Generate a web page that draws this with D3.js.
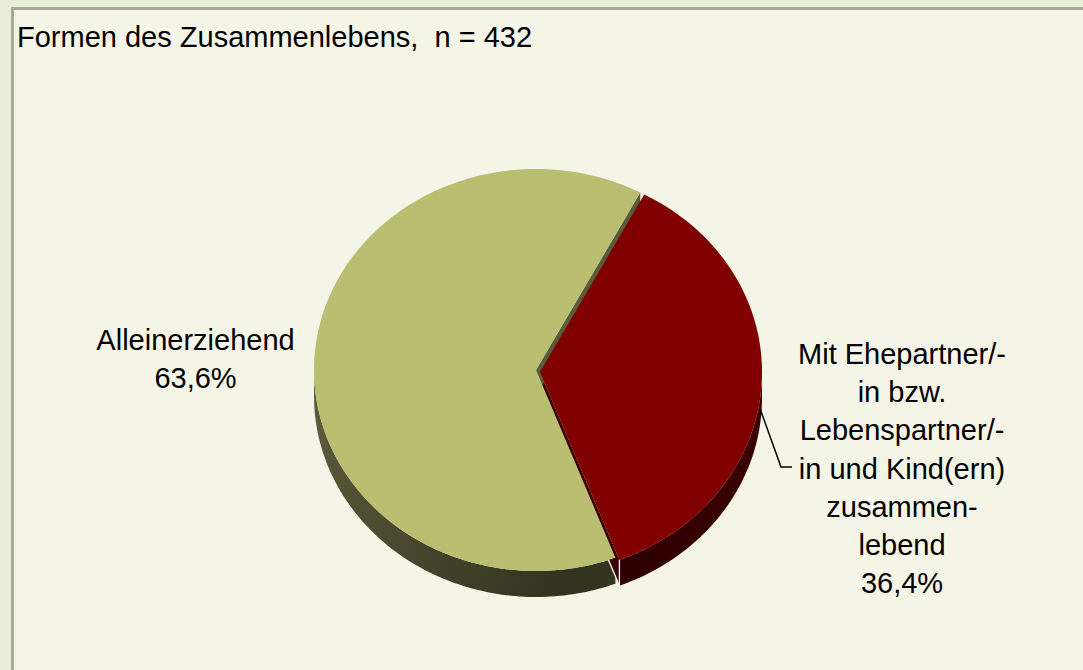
<!DOCTYPE html>
<html>
<head>
<meta charset="utf-8">
<script src="https://cdn.jsdelivr.net/npm/d3@7"></script>
<style>
  html, body { margin: 0; padding: 0; background: #e9eed9; }
  svg { display: block; font-family: "Liberation Sans", Arial, sans-serif; }
  text { white-space: pre; }
</style>
</head>
<body>
<svg id="chart" width="1083" height="670"></svg>
<script>
// data
const categories = ["Mit Ehepartner/-in bzw. Lebenspartner/-in und Kind(ern) zusammenlebend", "Alleinerziehend"];
const values = [36.4, 63.6];
const valueLabels = ["36,4%", "63,6%"];
const labelLines = [
  ["Mit Ehepartner/-", "in bzw.", "Lebenspartner/-", "in und Kind(ern)", "zusammen-", "lebend"],
  ["Alleinerziehend"]
];
const sliceColors = ["#800000", "#b9be70"];
const title = "Formen des Zusammenlebens,  n = 432";

const svg = d3.select("#chart");

// frame
svg.append("rect").attr("x", 12.5).attr("y", 8.5).attr("width", 1100).attr("height", 700)
  .attr("fill", "#f4f5e6").attr("stroke", "#a9ab95").attr("stroke-width", 3);

svg.append("text").attr("x", 17).attr("y", 47).attr("font-size", 29).attr("fill", "#000").text(title);

// pie geometry
const cx = 536, cy = 370, rx = 222, ry = 201, depth = 26;
const explode = [[4, 2], [0, 0]];
const pie = d3.pie().sort(null).startAngle(28 * Math.PI / 180).endAngle(28 * Math.PI / 180 + 2 * Math.PI);
const arcs = pie(values);

function pt(i, a, dz) {
  return [cx + explode[i][0] + rx * Math.sin(a), cy + explode[i][1] - ry * Math.cos(a) + (dz || 0)];
}
function arcPts(i, a0, a1, dz) {
  const n = Math.max(2, Math.ceil(Math.abs(a1 - a0) / 0.02));
  return d3.range(n + 1).map(k => pt(i, a0 + (a1 - a0) * k / n, dz));
}
function center(i, dz) {
  return [cx + explode[i][0], cy + explode[i][1] + (dz || 0)];
}

const defs = svg.append("defs");
const gSide = defs.append("linearGradient").attr("id", "gside").attr("x1", 0).attr("x2", 1).attr("y1", 0).attr("y2", 0.4);
gSide.append("stop").attr("offset", 0).attr("stop-color", "#5c5e3d");
gSide.append("stop").attr("offset", 1).attr("stop-color", "#34351f");
const rSide = defs.append("linearGradient").attr("id", "rside").attr("x1", 0).attr("x2", 1);
rSide.append("stop").attr("offset", 0).attr("stop-color", "#2e0000");
rSide.append("stop").attr("offset", 1).attr("stop-color", "#3a0000");
const sideFill = ["url(#rside)", "url(#gside)"];
const wallFill = ["#3c0000", "#5a5b3a"];

const line = d3.line();
const layer = svg.append("g");

// outer walls (front half only)
arcs.forEach((d, i) => {
  const a0 = Math.max(d.startAngle, Math.PI / 2);
  const a1 = Math.min(d.endAngle, 3 * Math.PI / 2);
  if (a1 <= a0) return;
  const top = arcPts(i, a0, a1, 0);
  const bot = arcPts(i, a1, a0, depth);
  layer.append("path").attr("d", line(top.concat(bot)) + "Z").attr("fill", sideFill[i]);
});

// radial walls that face the viewer
arcs.forEach((d, i) => {
  const a = d.endAngle;
  const p = [center(i, 0), pt(i, a, 0), pt(i, a, depth), center(i, depth)];
  layer.append("path").attr("d", line(p) + "Z").attr("fill", wallFill[i]);
  if (i === 0) {
    layer.append("path").attr("d", line([center(i, depth), pt(i, a, depth)]))
      .attr("stroke", "#fff").attr("stroke-width", 1.3).attr("fill", "none");
    layer.append("path").attr("d", line([pt(i, a, 0), pt(i, a, depth)]))
      .attr("stroke", "#fff").attr("stroke-width", 1.3).attr("fill", "none");
  }
});

// top faces
arcs.forEach((d, i) => {
  const p = [center(i, 0)].concat(arcPts(i, d.startAngle, d.endAngle, 0));
  layer.append("path").attr("d", line(p) + "Z").attr("fill", sliceColors[i]);
});

// labels
const fs = 29;
const lead0 = pt(0, 97 * Math.PI / 180, depth * 0.5);
svg.append("path").attr("d", line([lead0, [781, 467], [792, 467]]))
  .attr("fill", "none").attr("stroke", "#000").attr("stroke-width", 1.5);
const rLines = labelLines[0].concat([valueLabels[0]]);
svg.append("g").selectAll("text").data(rLines).join("text")
  .attr("x", 902).attr("y", (t, k) => 364 + k * 38.2)
  .attr("text-anchor", "middle").attr("font-size", fs).text(t => t);

const gLines = labelLines[1].concat([valueLabels[1]]);
svg.append("g").selectAll("text").data(gLines).join("text")
  .attr("x", 195.5).attr("y", (t, k) => 350 + k * 37.5)
  .attr("text-anchor", "middle").attr("font-size", fs).text(t => t);
</script>
</body>
</html>
